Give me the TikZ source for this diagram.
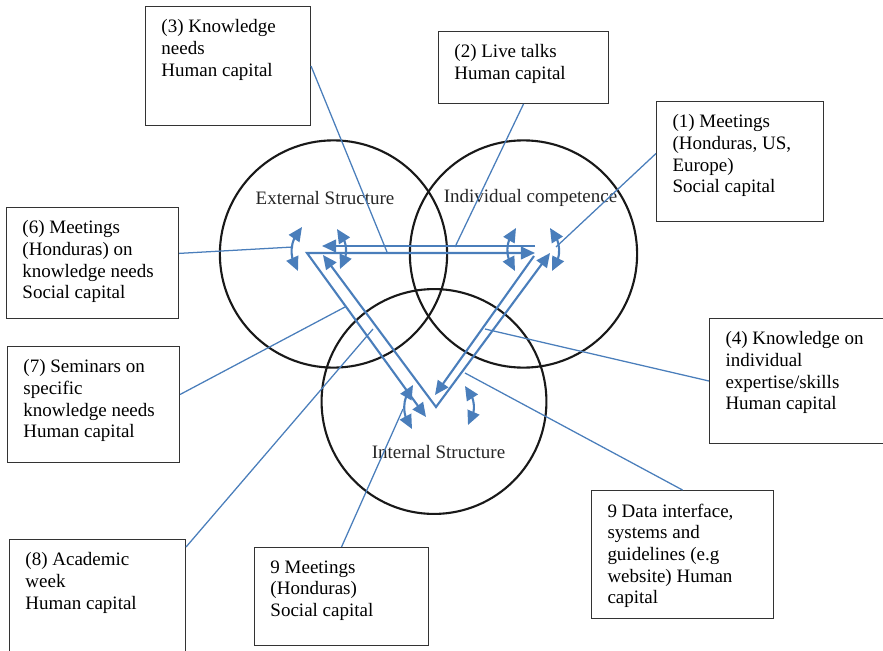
\documentclass[tikz,border=0pt]{standalone}
\usepackage{fontspec}
\setmainfont{Liberation Serif}
\usetikzlibrary{positioning,arrows.meta,bending}

\definecolor{linkblue}{HTML}{4A7EBB}
\newcommand{\boxfont}{\fontsize{13.5}{15.4}\selectfont}
\newcommand{\infotext}[3]{\parbox[c][#2][t]{#1}{\raggedright #3}}

\tikzset{
  infobox/.style={draw=black!80, line width=0.7pt, anchor=north west, inner xsep=0.4cm, inner ysep=0.33cm, font=\boxfont},
  ring/.style={draw=black!90, line width=1.5pt, circle, inner sep=0pt},
  ringlabel/.style={font=\boxfont, text=black!85},
  flow/.style={draw=linkblue, line width=1.5pt, -{Triangle[length=10pt,width=9pt]}},
  twoway/.style={draw=linkblue, line width=1.5pt, {Triangle[length=10pt,width=9pt]}-{Triangle[length=10pt,width=9pt]}},
  leader/.style={draw=linkblue, line width=0.9pt},
}

\begin{document}
\begin{tikzpicture}[x=0.025cm, y=-0.025cm]
  \useasboundingbox (0,0) rectangle (883,651);

  % the three circles
  \node[ring, minimum size=5.68cm] (extc) at (333.5,254) {};
  \node[ring, minimum size=5.68cm] (indc) at (523.5,254) {};
  \node[ring, minimum size=5.62cm] (intc) at (434,401.5) {};
  \node[ringlabel] (extlbl) at (325,198) {External Structure};
  \node[ringlabel] (indlbl) at (530.5,198) {Individual competence};
  \node[ringlabel] (intlbl) at (438.5,452) {Internal Structure};

  % corners and tips of the triangle
  \coordinate (lv) at (307,253);
  \coordinate (bv) at (436,407);
  \coordinate (hrt) at (535,253);
  \coordinate (ldt) at (426,417);
  \coordinate (lit) at (323,255);
  \coordinate (rot) at (550,253);
  \coordinate (hs) at (535,246);
  \coordinate (hlt) at (322,246);
  \coordinate (rs) at (534,256);
  \coordinate (rit) at (435,395);

  % the double lined triangle
  \draw[twoway] (hrt) -- (lv) -- (ldt);
  \draw[twoway] (lit) -- (bv) -- (rot);
  \draw[flow] (hs) -- (hlt);
  \draw[flow] (rs) -- (rit);

  % curved arrows at the corners
  \coordinate (a1t) at (302,227);
  \coordinate (a1b) at (298,271);
  \coordinate (a2t) at (337,229);
  \coordinate (a2b) at (340,269);
  \coordinate (a3t) at (516,228);
  \coordinate (a3b) at (515,271);
  \coordinate (a4t) at (550,228);
  \coordinate (a4b) at (552,271);
  \coordinate (a5t) at (413,385);
  \coordinate (a5b) at (412,429);
  \coordinate (a6t) at (465,386);
  \coordinate (a6b) at (468,425);
  \draw[twoway] (a1t) to[bend right=40] (a1b);
  \draw[twoway] (a2t) to[bend left=40] (a2b);
  \draw[twoway] (a3t) to[bend right=40] (a3b);
  \draw[twoway] (a4t) to[bend left=40] (a4b);
  \draw[twoway] (a5t) to[bend right=40] (a5b);
  \draw[twoway] (a6t) to[bend left=40] (a6b);

  % the boxes
  \node[infobox] (b3) at (145,6) {\infotext{3.325cm}{2.315cm}{(3) Knowledge\\needs\\Human capital}};
  \node[infobox] (b2) at (438,31) {\infotext{3.45cm}{1.14cm}{(2) Live talks\\Human capital}};
  \node[infobox] (b1) at (656,101) {\infotext{3.375cm}{2.34cm}{(1) Meetings\\(Honduras, US,\\Europe)\\Social capital}};
  \node[infobox] (b6) at (6,207) {\infotext{3.5cm}{2.115cm}{(6) Meetings\\(Honduras) on\\knowledge needs\\Social capital}};
  \node[infobox] (b7) at (7,346) {\infotext{3.5cm}{2.24cm}{(7) Seminars on\\specific\\knowledge needs\\Human capital}};
  \node[infobox] (b8) at (9,539) {\infotext{3.6cm}{2.365cm}{(8) Academic\\week\\Human capital}};
  \node[infobox] (b9m) at (254,547) {\infotext{3.55cm}{1.79cm}{9 Meetings\\(Honduras)\\Social capital}};
  \node[infobox] (b4) at (709,318) {\infotext{3.7cm}{2.465cm}{(4) Knowledge on\\individual\\expertise/skills\\Human capital}};
  \node[infobox] (b9d) at (591,490) {\infotext{3.75cm}{2.54cm}{9 Data interface,\\systems and\\guidelines (e.g\\website) Human\\capital}};

  % where the leaders end
  \coordinate (l3) at (387,252);
  \coordinate (l2) at (455,247);
  \coordinate (l1) at (556,247);
  \coordinate (l6) at (293,247);
  \coordinate (l7) at (345,307);
  \coordinate (l8) at (373,329);
  \coordinate (l9m) at (403,409);
  \coordinate (l4) at (485,329);
  \coordinate (l9d) at (465,373);

  % leaders from the boxes
  \draw[leader] (b3.east) -- (l3);
  \draw[leader] (b2.south) -- (l2);
  \draw[leader] ([yshift=0.2cm]b1.west) -- (l1);
  \draw[leader] ([yshift=0.24cm]b6.east) -- (l6);
  \draw[leader] ([yshift=0.25cm]b7.east) -- (l7);
  \draw[leader] ([yshift=-0.2cm]b8.north east) -- (l8);
  \draw[leader] (b9m.north) -- (l9m);
  \draw[leader] (b4.west) -- (l4);
  \draw[leader] (b9d.north) -- (l9d);
\end{tikzpicture}
\end{document}
